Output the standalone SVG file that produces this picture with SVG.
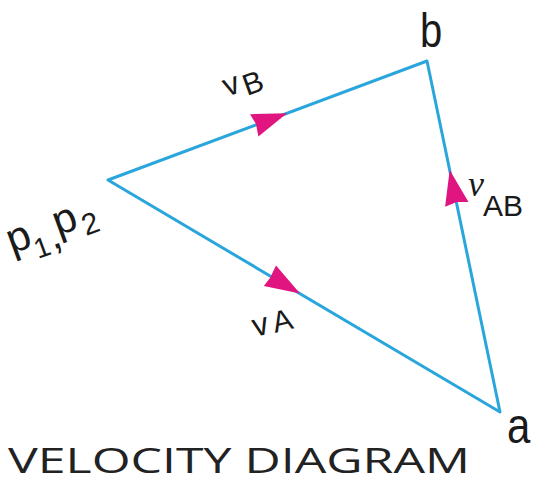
<svg xmlns="http://www.w3.org/2000/svg" width="533" height="483" viewBox="0 0 533 483">
<style>
.ln{stroke:#2aa6dc;stroke-width:3;fill:none;stroke-linecap:round;stroke-linejoin:round}
.ah{fill:#e0157f}
.t{font-family:"Liberation Sans",Arial,sans-serif;fill:#1a1a1a}
</style>
<rect width="533" height="483" fill="#ffffff"/>
<g id="connectors">
<polyline class="ln" points="108,180 427,61 500,412 108,180"/>
<polygon class="ah" points="287,113.2 250,114.2 256,124 258.4,136.6"/>
<polygon class="ah" points="300,293.6 276,265.5 270,278 263.8,286.1"/>
<polygon class="ah" points="449.7,170 468.5,201.9 456.8,202 445.1,206.7"/>
</g>
<g id="node-p">
<text class="t" font-size="42"><tspan x="12" y="254" rotate="-20">p</tspan><tspan x="38" y="259" font-size="28" rotate="-20">1</tspan><tspan x="53" y="250" rotate="-20">,</tspan><tspan x="58" y="236" rotate="-20">p</tspan><tspan x="86" y="236" font-size="30" rotate="-20">2</tspan></text>
</g>
<g id="node-b">
<text class="t" x="420" y="47" font-size="40" transform="matrix(1 0 0 1.2 0 -9.4)">b</text>
</g>
<g id="node-a">
<text class="t" x="507" y="443" font-size="42" transform="matrix(1 0 0 1.2 0 -88.6)">a</text>
</g>
<g id="label-vB">
<text class="t" font-size="32"><tspan x="227" y="97" rotate="-20">v</tspan><tspan x="247" y="96" font-size="30" rotate="-20">B</tspan></text>
</g>
<g id="label-vA">
<text class="t" font-size="32"><tspan x="255" y="337" rotate="-14">v</tspan><tspan x="275" y="333" font-size="30" rotate="-14">A</tspan></text>
</g>
<g id="label-vAB">
<text class="t" x="468" y="196" font-size="36"><tspan font-family="Liberation Serif,serif" font-style="italic">v</tspan><tspan font-size="30" dy="20" x="483">AB</tspan></text>
</g>
<g id="title">
<text x="8" y="473" font-family="Open Sans,Liberation Sans,sans-serif" font-size="34" fill="#222" textLength="462" lengthAdjust="spacingAndGlyphs">VELOCITY DIAGRAM</text>
</g>
</svg>
